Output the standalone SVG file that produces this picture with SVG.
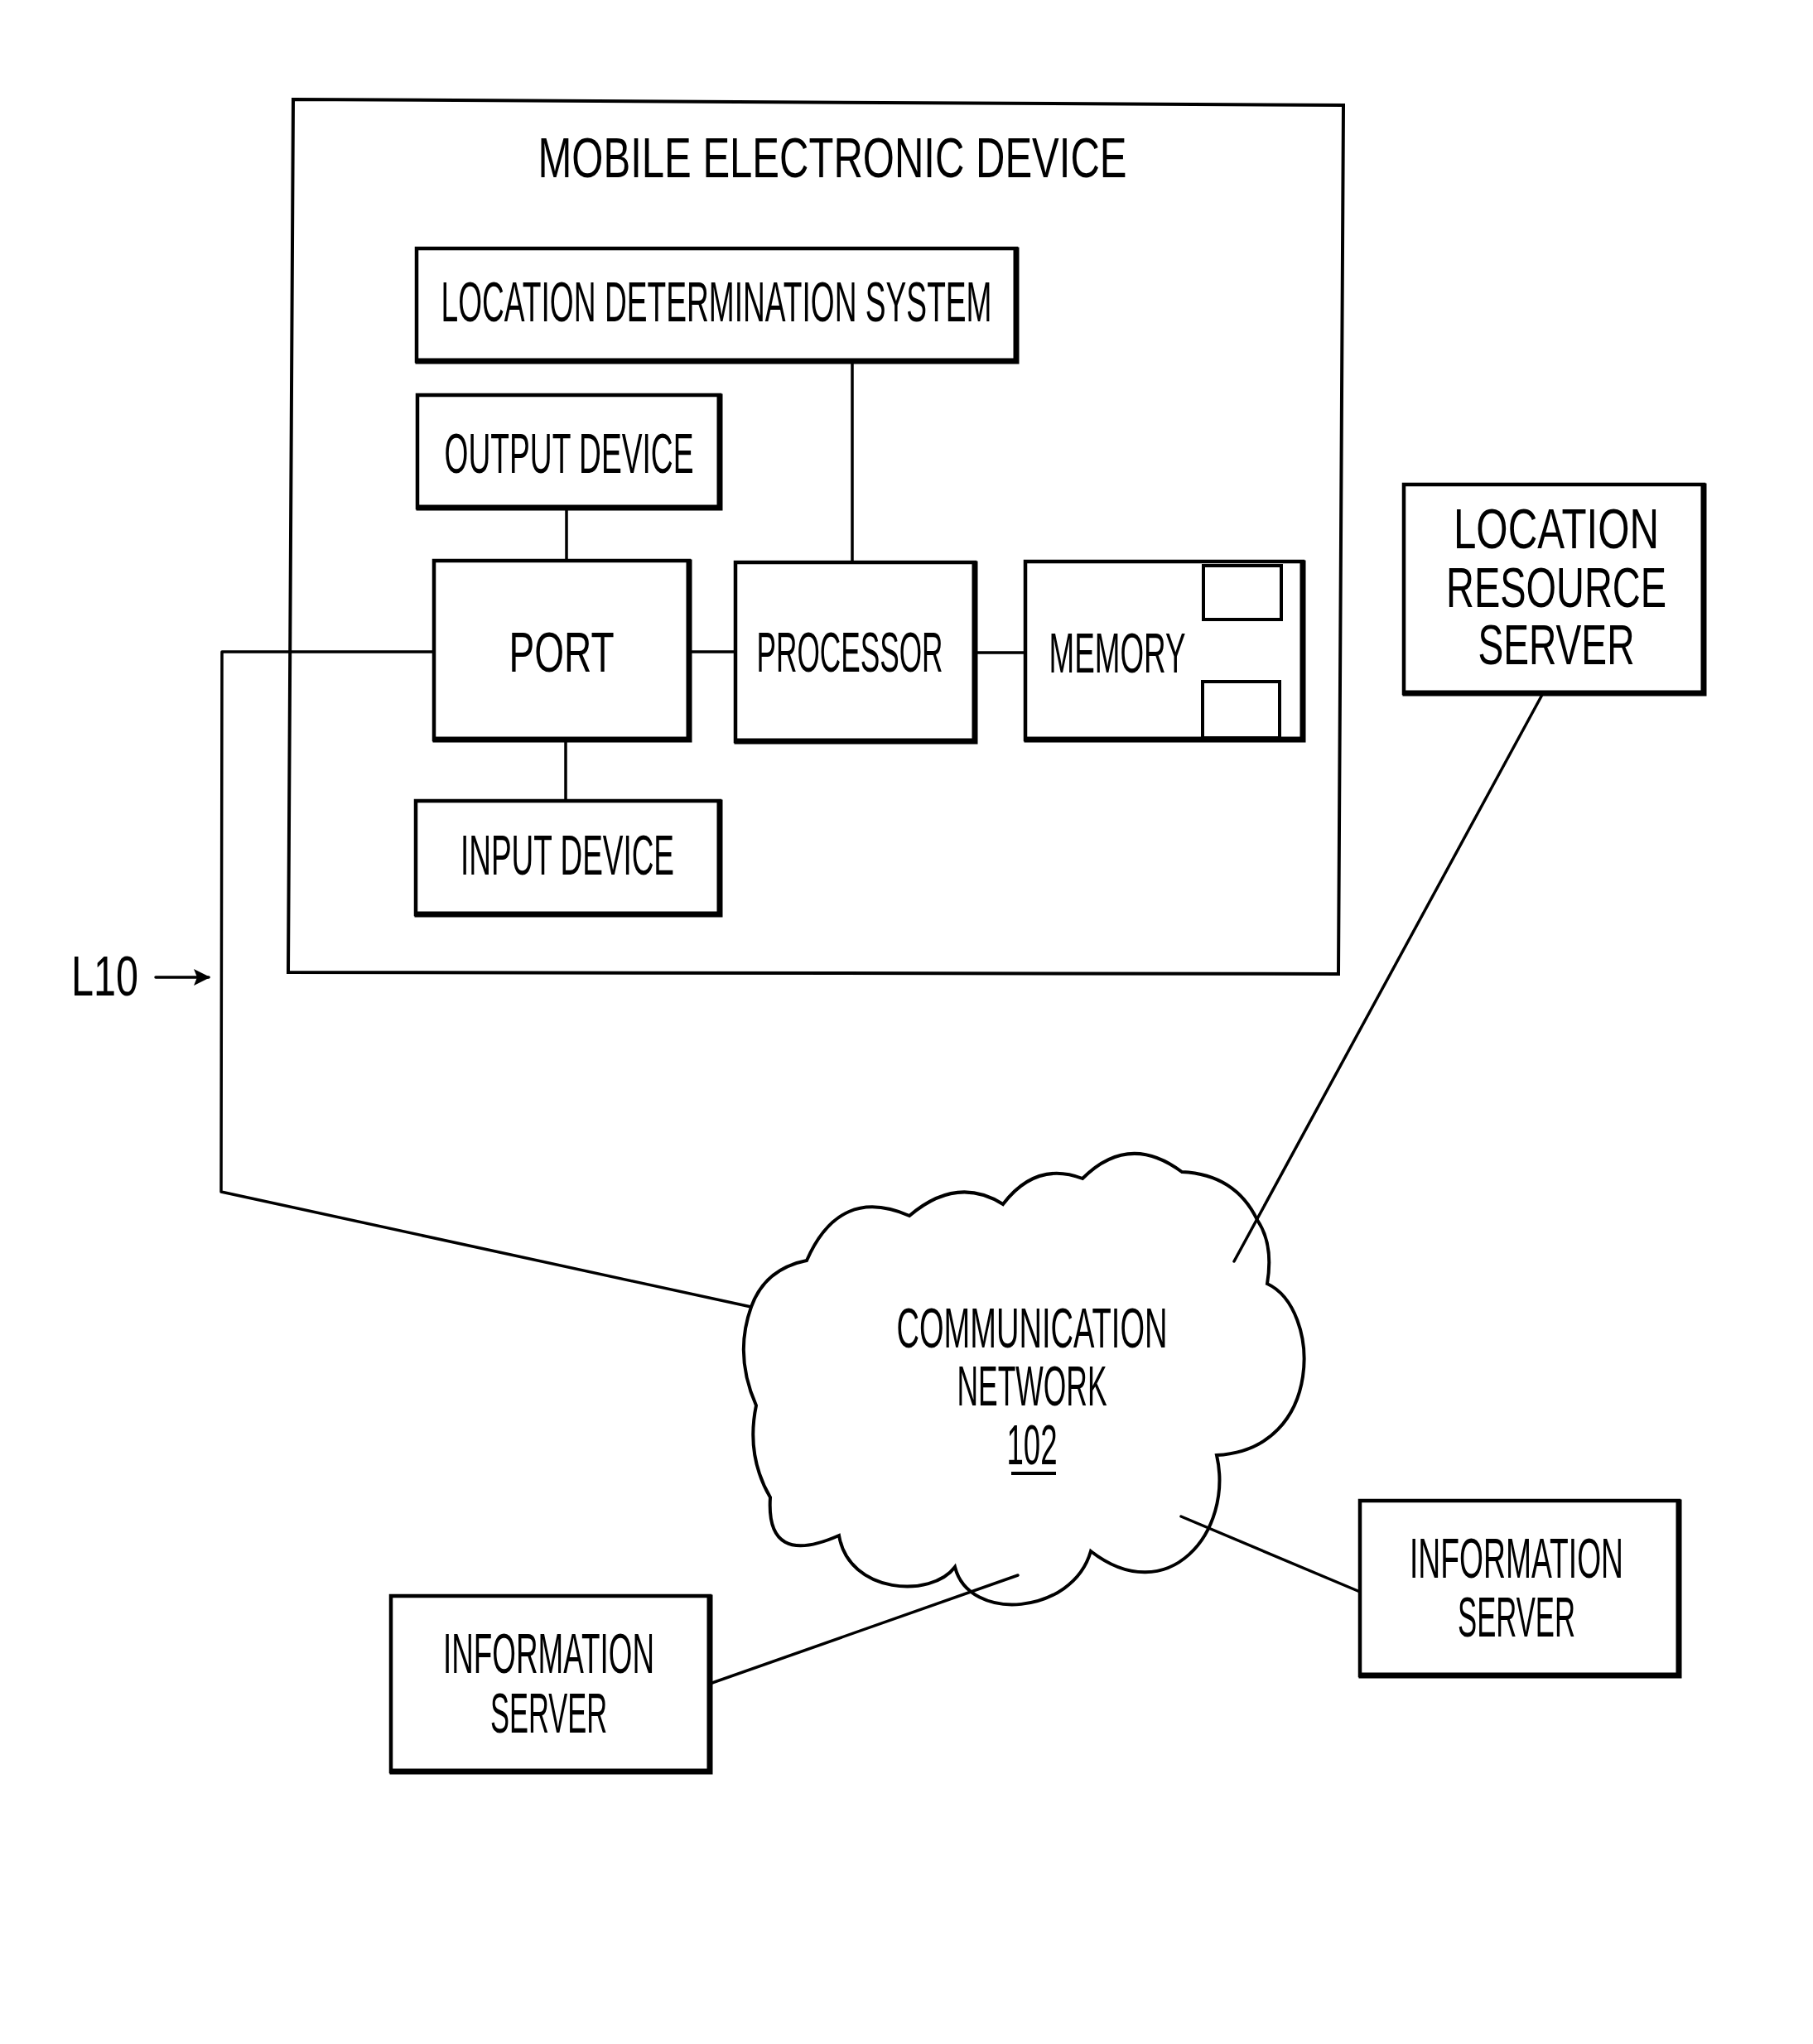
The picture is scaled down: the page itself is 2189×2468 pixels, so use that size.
<svg xmlns="http://www.w3.org/2000/svg" width="2189" height="2468" viewBox="0 0 2189 2468">
<defs>
<style>
.bx{fill:#fff;stroke:#000;stroke-width:4.5}
.sh{fill:none;stroke:#000;stroke-width:7;stroke-linecap:square}
.ln{fill:none;stroke:#000;stroke-width:3.5;stroke-linecap:round;stroke-linejoin:round}
.tx{font-family:"Liberation Sans",Arial,sans-serif;font-size:68px;fill:#000;text-anchor:middle}
</style>
<marker id="ah" viewBox="0 0 20 20" refX="18" refY="10" markerWidth="20" markerHeight="20" markerUnits="userSpaceOnUse" orient="auto">
<path d="M0,0 L20,10 L0,20 L4,10 Z" fill="#000"/>
</marker>
</defs>
<rect width="2189" height="2468" fill="#fff"/>

<g id="mobile-device">
<path d="M354,120 L1622,127 L1616,1176 L348,1174 Z" fill="none" stroke="#000" stroke-width="4"/>
<text class="tx" transform="translate(1005,214) scale(0.54,1)" x="0" y="0" font-size="70" textLength="1316.7" lengthAdjust="spacingAndGlyphs">MOBILE ELECTRONIC DEVICE</text>
</g>

<g id="connectors">
<path class="ln" d="M524,787 L268,787 L267,1439 L907,1578"/>
<line class="ln" x1="832" y1="787" x2="888" y2="787"/>
<line class="ln" x1="1177" y1="788" x2="1238" y2="788"/>
<line class="ln" x1="1029" y1="436" x2="1029" y2="679"/>
<line class="ln" x1="684" y1="613" x2="684" y2="677"/>
<line class="ln" x1="683" y1="893" x2="683" y2="967"/>
<line class="ln" x1="1863" y1="837" x2="1490" y2="1523"/>
<line class="ln" x1="1642" y1="1922" x2="1426" y2="1831"/>
<line class="ln" x1="857" y1="2033" x2="1229" y2="1902"/>
<line class="ln" x1="188" y1="1180" x2="252" y2="1180" marker-end="url(#ah)"/>
</g>

<g id="lds">
<rect class="bx" x="503" y="300" width="724" height="136"/>
<path class="sh" d="M1227,302 L1227,436 L505,436"/>
<text class="tx" transform="translate(865,388) scale(0.54,1)" x="0" y="0" textLength="1231.5" lengthAdjust="spacingAndGlyphs">LOCATION DETERMINATION SYSTEM</text>
</g>

<g id="output-device">
<rect class="bx" x="504" y="477" width="365" height="136"/>
<path class="sh" d="M869,479 L869,613 L506,613"/>
<text class="tx" transform="translate(687,571) scale(0.54,1)" x="0" y="0" textLength="557.4" lengthAdjust="spacingAndGlyphs">OUTPUT DEVICE</text>
</g>

<g id="port">
<rect class="bx" x="524" y="677" width="308" height="216"/>
<path class="sh" d="M832,679 L832,893 L526,893"/>
<text class="tx" transform="translate(678,811) scale(0.54,1)" x="0" y="0" textLength="235.2" lengthAdjust="spacingAndGlyphs">PORT</text>
</g>

<g id="processor">
<rect class="bx" x="888" y="679" width="289" height="216"/>
<path class="sh" d="M1177,681 L1177,895 L890,895"/>
<text class="tx" transform="translate(1026,811) scale(0.54,1)" x="0" y="0" textLength="416.7" lengthAdjust="spacingAndGlyphs">PROCESSOR</text>
</g>

<g id="memory">
<rect class="bx" x="1238" y="678" width="335" height="215"/>
<path class="sh" d="M1573,680 L1573,893 L1240,893"/>
<rect x="1453" y="683" width="94" height="65" fill="none" stroke="#000" stroke-width="4"/>
<rect x="1452" y="823" width="93" height="68" fill="none" stroke="#000" stroke-width="4"/>
<text class="tx" transform="translate(1349,812) scale(0.54,1)" x="0" y="0" textLength="305.6" lengthAdjust="spacingAndGlyphs">MEMORY</text>
</g>

<g id="input-device">
<rect class="bx" x="502" y="967" width="367" height="137"/>
<path class="sh" d="M869,969 L869,1104 L504,1104"/>
<text class="tx" transform="translate(685,1056) scale(0.54,1)" x="0" y="0" textLength="477.8" lengthAdjust="spacingAndGlyphs">INPUT DEVICE</text>
</g>

<g id="l10-label">
<text class="tx" transform="translate(126.5,1202) scale(0.54,1)" x="0" y="0" textLength="150" lengthAdjust="spacingAndGlyphs">L10</text>
</g>

<g id="location-resource-server">
<rect class="bx" x="1695" y="585" width="362" height="252"/>
<path class="sh" d="M2057,587 L2057,837 L1697,837"/>
<text class="tx" transform="translate(1879,662) scale(0.54,1)" x="0" y="0" textLength="459.3" lengthAdjust="spacingAndGlyphs">LOCATION</text>
<text class="tx" transform="translate(1879,733) scale(0.54,1)" x="0" y="0" textLength="492.6" lengthAdjust="spacingAndGlyphs">RESOURCE</text>
<text class="tx" transform="translate(1879,802) scale(0.54,1)" x="0" y="0" textLength="350" lengthAdjust="spacingAndGlyphs">SERVER</text>
</g>

<g id="communication-network">
<path d="M907,1578 Q923.5,1532 974,1522 Q1014,1431 1098,1468 Q1155.5,1419 1211,1454 Q1251,1401.5 1307,1423 Q1363,1367 1427,1415 Q1491.5,1418 1518,1473 Q1538,1502.5 1530,1550 C1595,1580 1600,1750 1469,1757 C1490,1850 1410,1945 1317,1873 C1295,1950 1170,1960 1153,1892 C1125,1930 1025,1925 1013,1854 Q924.5,1893 930,1808 Q900.5,1757.5 913,1697 Q886,1636.5 907,1578 Z" fill="none" stroke="#000" stroke-width="4" stroke-linejoin="miter"/>
<text class="tx" transform="translate(1246,1627) scale(0.54,1)" x="0" y="0" textLength="605.6" lengthAdjust="spacingAndGlyphs">COMMUNICATION</text>
<text class="tx" transform="translate(1246,1697) scale(0.54,1)" x="0" y="0" textLength="335.2" lengthAdjust="spacingAndGlyphs">NETWORK</text>
<text class="tx" transform="translate(1246,1768) scale(0.54,1)" x="0" y="0" textLength="113" lengthAdjust="spacingAndGlyphs">102</text>
<line x1="1221" y1="1779" x2="1275" y2="1779" stroke="#000" stroke-width="4"/>
</g>

<g id="information-server-left">
<rect class="bx" x="472" y="1927" width="385" height="212"/>
<path class="sh" d="M857,1929 L857,2139 L474,2139"/>
<text class="tx" transform="translate(662.5,2020) scale(0.54,1)" x="0" y="0" textLength="472.2" lengthAdjust="spacingAndGlyphs">INFORMATION</text>
<text class="tx" transform="translate(662.5,2092) scale(0.54,1)" x="0" y="0" textLength="261.1" lengthAdjust="spacingAndGlyphs">SERVER</text>
</g>

<g id="information-server-right">
<rect class="bx" x="1642" y="1812" width="385" height="211"/>
<path class="sh" d="M2027,1814 L2027,2023 L1644,2023"/>
<text class="tx" transform="translate(1831,1905) scale(0.54,1)" x="0" y="0" textLength="477.8" lengthAdjust="spacingAndGlyphs">INFORMATION</text>
<text class="tx" transform="translate(1831,1976) scale(0.54,1)" x="0" y="0" textLength="263" lengthAdjust="spacingAndGlyphs">SERVER</text>
</g>
</svg>
